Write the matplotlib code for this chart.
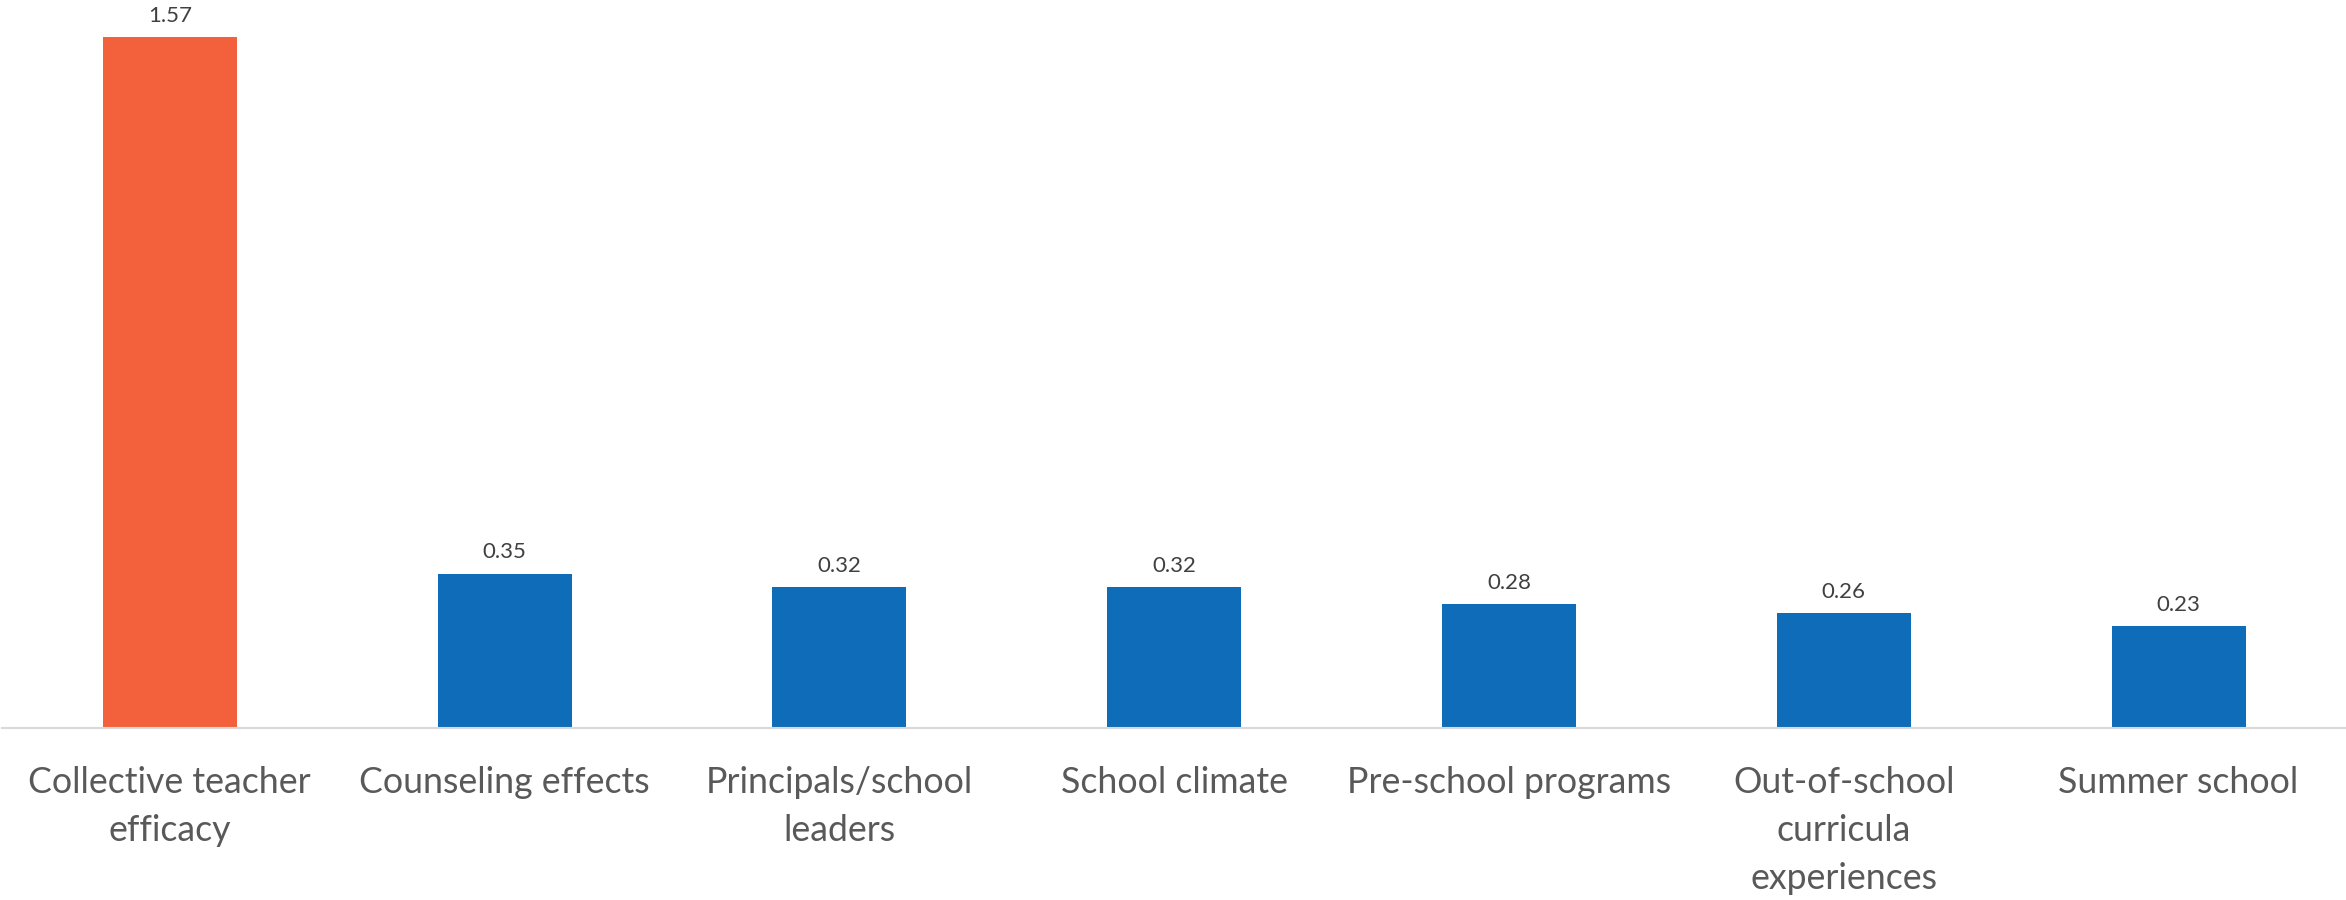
import matplotlib
matplotlib.use("Agg")
import matplotlib.pyplot as plt

categories = [
    "Collective teacher\nefficacy",
    "Counseling effects",
    "Principals/school\nleaders",
    "School climate",
    "Pre-school programs",
    "Out-of-school\ncurricula\nexperiences",
    "Summer school",
]
effect_sizes = [1.57, 0.35, 0.32, 0.32, 0.28, 0.26, 0.23]
value_labels = ["1.57", "0.35", "0.32", "0.32", "0.28", "0.26", "0.23"]

ORANGE = "#F2613B"
BLUE = "#0E6CB8"
bar_colors = [ORANGE] + [BLUE] * (len(effect_sizes) - 1)

plt.rcParams["font.family"] = ["Lato", "DejaVu Sans"]

fig = plt.figure(figsize=(23.46, 9), dpi=100)
ax = fig.add_axes([0.001, 1 - 727.5 / 900, 0.999, 727.5 / 900])

x = list(range(len(categories)))
ax.bar(x, effect_sizes, width=0.4, color=bar_colors, zorder=2)

ax.set_xlim(-0.5, len(categories) - 0.5)
ax.set_ylim(0, 1.654)

for xi, v, lab in zip(x, effect_sizes, value_labels):
    ax.annotate(lab, (xi, v), xytext=(0, 8), textcoords="offset points",
                ha="center", va="bottom", fontsize=16, color="#404040")

ax.set_xticks(x)
ax.set_xticklabels(categories, fontsize=25.7, color="#595959", linespacing=1.55)
ax.tick_params(axis="x", length=0, pad=28)
ax.set_yticks([])

for side in ("left", "right", "top"):
    ax.spines[side].set_visible(False)
ax.spines["bottom"].set_color("#D9D9D9")
ax.spines["bottom"].set_linewidth(1.5)

fig.savefig("out.png", dpi=100)
